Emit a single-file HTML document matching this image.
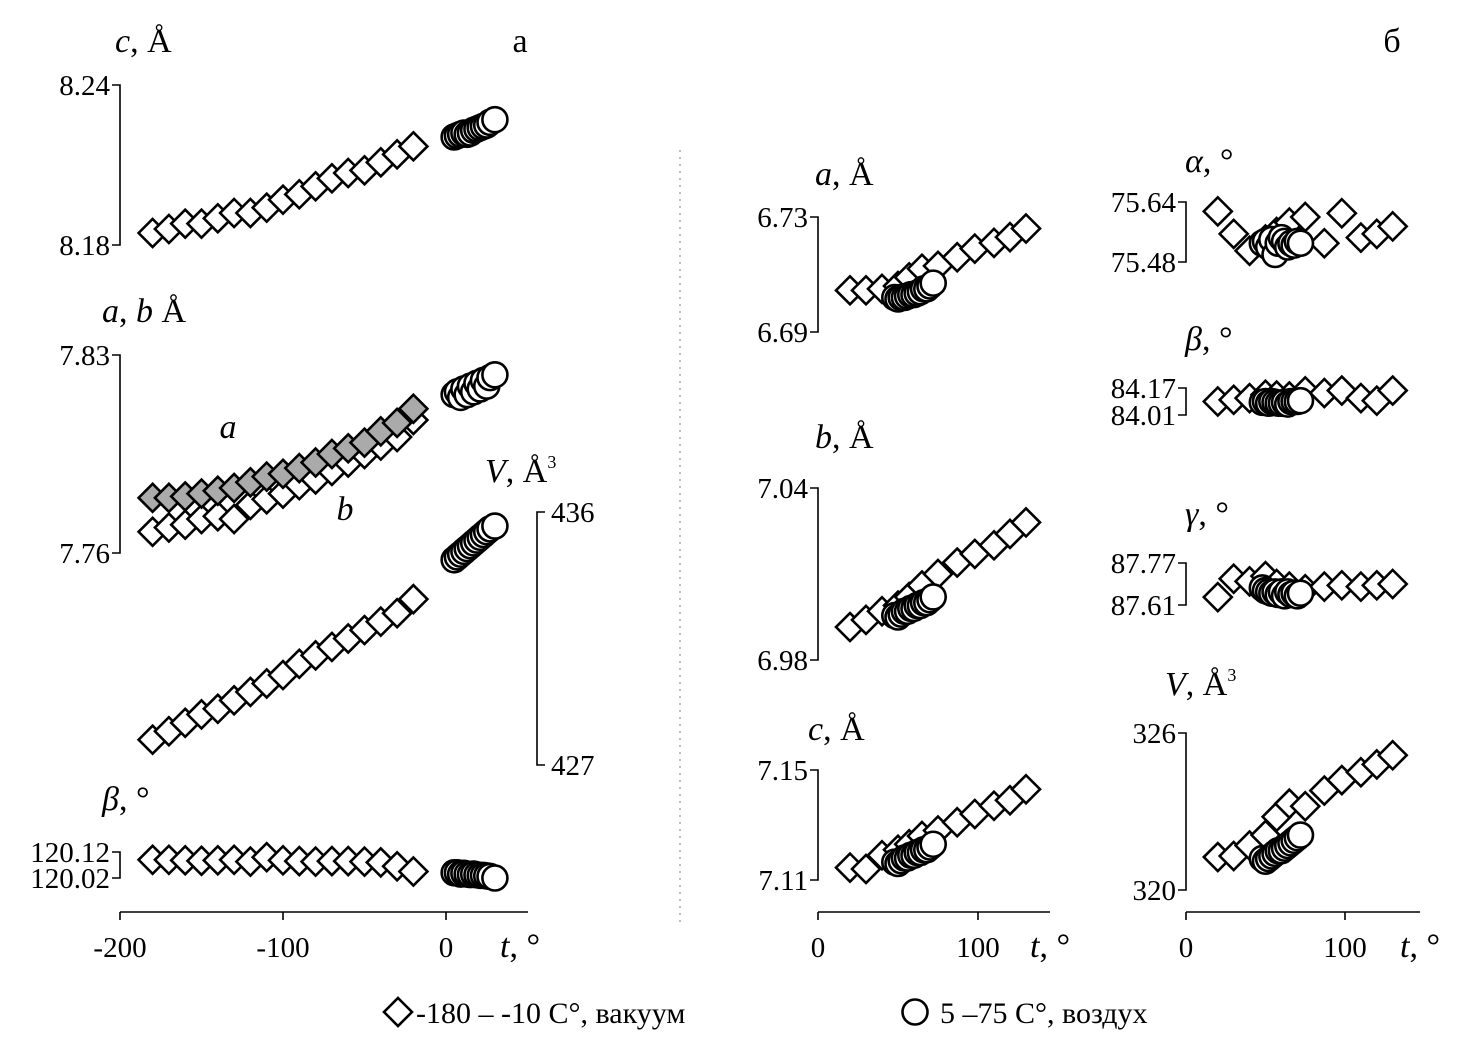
<!DOCTYPE html>
<html><head><meta charset="utf-8"><style>
body{margin:0;background:#fff}
svg{display:block;font-family:"Liberation Serif",serif}
.tk{font-size:29px}
.lg{font-size:30px}
.lb{font-size:34px}
</style></head><body>
<svg id="c" width="1463" height="1049" viewBox="0 0 1463 1049"></svg>
<script>
// ---- data ----
const tLeftD=[-180,-170,-160,-150,-140,-130,-120,-110,-100,-90,-80,-70,-60,-50,-40,-30,-20];
const tLeftC=[5,7,9,11,13,15,17,19,21,23,25,27,30];
const cD=[8.1845,8.186,8.188,8.188,8.190,8.192,8.192,8.194,8.197,8.199,8.202,8.205,8.207,8.208,8.211,8.214,8.217];
const cC=[8.2205,8.221,8.2215,8.222,8.2215,8.222,8.223,8.2235,8.224,8.2245,8.225,8.226,8.227];
const aD=[7.7795,7.7795,7.780,7.781,7.782,7.783,7.785,7.787,7.788,7.790,7.792,7.795,7.797,7.799,7.803,7.806,7.811];
const bD=[7.7675,7.769,7.770,7.772,7.773,7.772,7.777,7.779,7.781,7.784,7.786,7.789,7.792,7.795,7.798,7.801,7.807];
const abC=[7.816,7.817,7.815,7.818,7.816,7.819,7.817,7.820,7.818,7.821,7.819,7.822,7.823];
const vD=[427.9,428.2,428.5,428.8,429.0,429.3,429.6,429.9,430.2,430.6,430.9,431.2,431.5,431.8,432.1,432.4,432.9];
const vC=[434.3,434.4,434.5,434.6,434.7,434.8,434.9,435.0,435.1,435.2,435.3,435.4,435.5];
const betaLD=[120.09,120.09,120.088,120.086,120.088,120.09,120.083,120.1,120.088,120.085,120.083,120.085,120.085,120.083,120.08,120.065,120.045];
const betaLC=[120.04,120.04,120.035,120.038,120.035,120.033,120.035,120.032,120.03,120.03,120.028,120.026,120.02];
const tRD=[20,30,40,50,57,65,75,87,98,110,120,130];
const tRC=[48,50,52,54,56,58,60,62,64,66,68,70,72];
const raD=[6.7045,6.7045,6.705,6.706,6.709,6.712,6.713,6.716,6.719,6.721,6.723,6.726];
const raC=[6.702,6.7015,6.702,6.702,6.7025,6.703,6.703,6.7035,6.704,6.705,6.705,6.706,6.707];
const rbD=[6.9915,6.994,6.997,6.999,7.002,7.006,7.010,7.014,7.017,7.020,7.024,7.028];
const rbC=[6.9955,6.995,6.996,6.997,6.997,6.998,6.998,6.999,6.999,7.000,7.000,7.001,7.002];
const rcD=[7.1145,7.114,7.119,7.121,7.123,7.126,7.128,7.131,7.134,7.137,7.139,7.143];
const rcC=[7.1165,7.116,7.117,7.118,7.118,7.119,7.119,7.120,7.120,7.121,7.121,7.122,7.123];
const alD=[75.615,75.555,75.51,75.54,75.56,75.585,75.60,75.53,75.61,75.545,75.555,75.575];
const alC=[75.53,75.535,75.52,75.54,75.50,75.53,75.545,75.535,75.52,75.53,75.525,75.535,75.53];
const beD=[84.09,84.10,84.11,84.13,84.125,84.12,84.15,84.14,84.155,84.11,84.095,84.155];
const beC=[84.085,84.09,84.08,84.09,84.085,84.08,84.08,84.085,84.075,84.09,84.09,84.09,84.095];
const gaD=[87.64,87.71,87.70,87.72,87.69,87.68,87.67,87.68,87.685,87.68,87.685,87.69];
const gaC=[87.675,87.665,87.66,87.655,87.66,87.65,87.66,87.645,87.66,87.65,87.655,87.645,87.655];
const rvD=[321.26,321.3,321.7,322.1,322.8,323.3,323.2,323.8,324.2,324.5,324.8,325.15];
const rvC=[321.2,321.1,321.2,321.3,321.4,321.5,321.5,321.6,321.7,321.8,321.9,322.0,322.1];
// ---- drawing ----
const svg=document.getElementById('c');const NS='http://www.w3.org/2000/svg';
function el(t,a,p){const e=document.createElementNS(NS,t);for(const k in a)e.setAttribute(k,a[k]);(p||svg).appendChild(e);return e;}
function lin(d0,d1,r0,r1){return v=>r0+(v-d0)*(r1-r0)/(d1-d0);}
const xL=lin(-200,0,120,446), xR1=lin(0,100,818,978), xR2=lin(0,100,1186,1345);
function diamond(x,y,fill,name){const s=14;const e=el('path',{d:`M${x} ${y-s}L${x+s} ${y}L${x} ${y+s}L${x-s} ${y}Z`,fill:fill,stroke:'#000','stroke-width':2.6});

}
function circle(x,y,name){const e=el('circle',{cx:x,cy:y,r:12.5,fill:'#fff',stroke:'#000','stroke-width':2.6});

}
function text(x,y,s,cls,anchor,name){const e=el('text',{x:x,y:y,class:cls,'text-anchor':anchor||'start'});e.innerHTML=s;

return e;}
function yaxis(ax,v1,y1,v2,y2,side,l1,l2,name){
 const g=el('g',{});
 const d=side>0?8:-8;
 el('path',{d:`M${ax+d} ${y1}H${ax}V${y2}H${ax+d}`,fill:'none',stroke:'#000','stroke-width':1.6},g);
 if(side<0){text(ax-10,y1+10,l1,'tk','end',name+'-top');text(ax-10,y2+10,l2,'tk','end',name+'-bottom');}
 else{text(ax+14,y1+10,l1,'tk','start',name+'-top');text(ax+14,y2+10,l2,'tk','start',name+'-bottom');}
 return lin(v1,v2,y1,y2);}
function series(xs,xf,vals,yf,kind,name,fill){xs.forEach((t,i)=>{kind==='d'?diamond(xf(t),yf(vals[i]),fill||'#fff',name):circle(xf(t),yf(vals[i]),name);});}
function xaxis(x0,x1,ticks,xf,name){const g=el('g',{});
 el('line',{x1:x0,x2:x1,y1:912,y2:912,stroke:'#000','stroke-width':1.6},g);
 ticks.forEach(t=>{el('line',{x1:xf(t),x2:xf(t),y1:912,y2:920,stroke:'#000','stroke-width':1.6},g);text(xf(t),957,String(t),'tk','middle',name+'-tick');});}
// left panel
text(520,52,'а','lb','middle','panel-label-a');text(1392,52,'б','lb','middle','panel-label-b');
el('line',{x1:680,x2:680,y1:150,y2:925,stroke:'#aaa','stroke-width':1.5,'stroke-dasharray':'2 5'});
text(115,52,'<tspan font-style="italic">c</tspan>, Å','lb','start','y-title-c');
let y=yaxis(120,8.24,85,8.18,245,-1,'8.24','8.18','y-axis-c');
series(tLeftD,xL,cD,y,'d','c-vacuum');series(tLeftC,xL,cC,y,'c','c-air');
text(102,322,'<tspan font-style="italic">a</tspan>, <tspan font-style="italic">b</tspan> Å','lb','start','y-title-ab');
y=yaxis(120,7.83,355,7.76,553,-1,'7.83','7.76','y-axis-ab');
series(tLeftD,xL,bD,y,'d','b-vacuum');series(tLeftD,xL,aD,y,'d','a-vacuum','#aaa');series(tLeftC,xL,abC,y,'c','ab-air');
text(228,438,'<tspan font-style="italic">a</tspan>','lb','middle','label-a');text(345,520,'<tspan font-style="italic">b</tspan>','lb','middle','label-b');
text(485,482,'<tspan font-style="italic">V</tspan>, Å<tspan font-size="18" dy="-14">3</tspan>','lb','start','y-title-v');
y=yaxis(537,436,512,427,765,1,'436','427','y-axis-v');
series(tLeftD,xL,vD,y,'d','v-vacuum');series(tLeftC,xL,vC,y,'c','v-air');
text(102,810,'<tspan font-style="italic">β</tspan>, °','lb','start','y-title-beta');
y=yaxis(120,120.12,852,120.02,878,-1,'120.12','120.02','y-axis-beta');
series(tLeftD,xL,betaLD,y,'d','beta-vacuum');series(tLeftC,xL,betaLC,y,'c','beta-air');
xaxis(120,528,[-200,-100,0],xL,'x-axis-left');
text(500,957,'<tspan font-style="italic">t</tspan>, °','lb','start','x-title-left');
// right panel
const R=[
 [818,xR1,6.73,217,6.69,332,'6.73','6.69',raD,raC,'<tspan font-style="italic">a</tspan>, Å',815,185,'a'],
 [818,xR1,7.04,488,6.98,660,'7.04','6.98',rbD,rbC,'<tspan font-style="italic">b</tspan>, Å',815,448,'b'],
 [818,xR1,7.15,770,7.11,880,'7.15','7.11',rcD,rcC,'<tspan font-style="italic">c</tspan>, Å',808,740,'c'],
 [1186,xR2,75.64,202,75.48,262,'75.64','75.48',alD,alC,'<tspan font-style="italic">α</tspan>, °',1185,172,'alpha'],
 [1186,xR2,84.17,388,84.01,415,'84.17','84.01',beD,beC,'<tspan font-style="italic">β</tspan>, °',1185,350,'beta'],
 [1186,xR2,87.77,563,87.61,605,'87.77','87.61',gaD,gaC,'<tspan font-style="italic">γ</tspan>, °',1185,525,'gamma'],
 [1186,xR2,326,733,320,890,'326','320',rvD,rvC,'<tspan font-style="italic">V</tspan>, Å<tspan font-size="18" dy="-14">3</tspan>',1165,695,'volume']];
R.forEach(r=>{text(r[11],r[12],r[10],'lb','start','y-title-'+r[13]);
 const yf=yaxis(r[0],r[2],r[3],r[4],r[5],-1,r[6],r[7],'y-axis-'+r[13]);
 series(tRD,r[1],r[8],yf,'d',r[13]+'-vacuum');series(tRC,r[1],r[9],yf,'c',r[13]+'-air');});
xaxis(818,1050,[0,100],xR1,'x-axis-right-1');text(1030,957,'<tspan font-style="italic">t</tspan>, °','lb','start','x-title-right-1');
xaxis(1186,1420,[0,100],xR2,'x-axis-right-2');text(1400,957,'<tspan font-style="italic">t</tspan>, °','lb','start','x-title-right-2');
// legend
diamond(398,1012,'#fff','legend-diamond');text(416,1023,'-180 – -10 С°, вакуум','lg','start','legend-vacuum');
circle(915,1012,'legend-circle');text(940,1023,'5 –75 С°, воздух','lg','start','legend-air');
</script>
</body></html>
